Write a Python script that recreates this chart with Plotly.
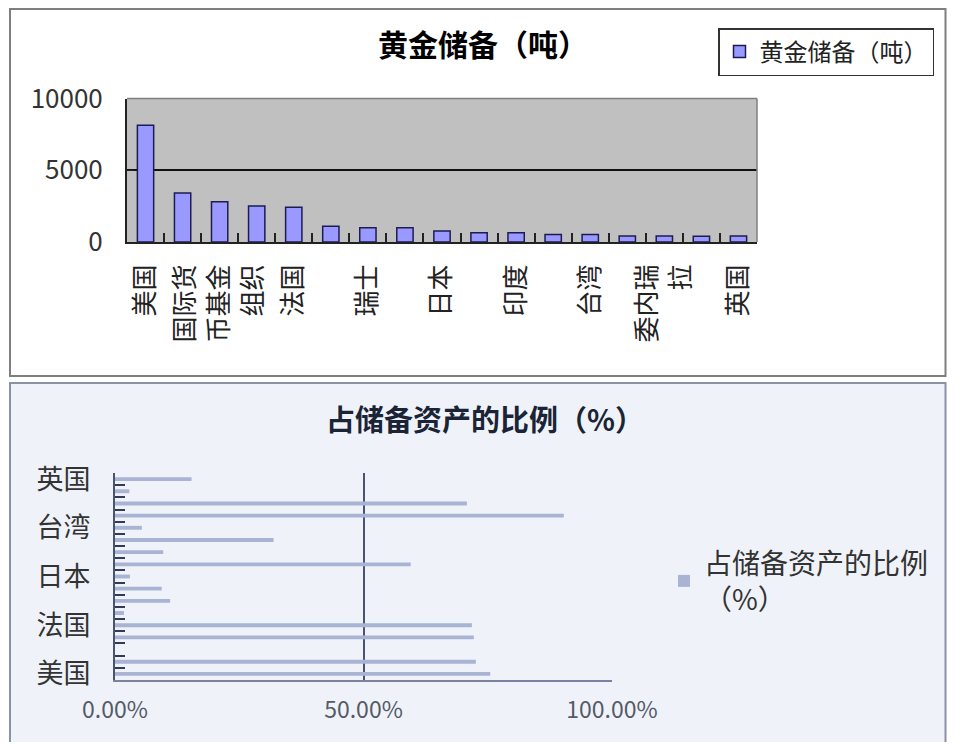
import plotly.graph_objects as go

# ---------------- data ----------------
countries = ["美国", "德国", "国际货币基金组织", "意大利", "法国", "中国", "瑞士", "俄罗斯",
             "日本", "荷兰", "印度", "欧洲央行", "台湾", "葡萄牙", "委内瑞拉", "沙特", "英国"]

# tick labels shown on the top chart (every other category, wrapped like the original)
top_tick_labels = ["美国", "", "国际货<br>币基金<br>组织", "", "法国", "", "瑞士", "",
                   "日本", "", "印度", "", "台湾", "", "委内瑞<br>拉", "", "英国"]

# tick labels shown on the bottom chart (every fourth category)
bottom_tick_labels = ["美国", "", "", "", "法国", "", "", "", "日本",
                      "", "", "", "台湾", "", "", "", "英国"]

top_y_ticks = [0, 5000, 10000]
top_y_labels = ["0", "5000", "10000"]

gold_tonnes = [8133, 3410, 2800, 2500, 2430, 1100, 1000, 1000, 760,
               650, 640, 530, 520, 420, 410, 400, 410]

share_of_reserves = [0.755, 0.726, None, 0.722, 0.718, 0.018, 0.111, 0.094, 0.030,
                     0.595, 0.097, 0.319, 0.054, 0.903, 0.708, 0.029, 0.154]

bottom_x_ticks = [0, 0.5, 1]
bottom_x_labels = ["0.00%", "50.00%", "100.00%"]

series_top = "黄金储备（吨）"
series_bottom = "占储备资产的比例<br>（%）"
title_top = "黄金储备（吨）"
title_bottom = "占储备资产的比例（%）"

# ---------------- figure ----------------
# the page body adds an 8px margin on every side, so the figure is drawn
# smaller and screen coordinates are shifted by 8px
OFF = 8
W, H = 955 - 2 * OFF, 750 - 2 * OFF
FONT = "Noto Sans CJK SC"


def px(x):
    return (x - OFF) / W


def py(y):
    return 1 - (y - OFF) / H


fig = go.Figure()

fig.add_trace(go.Bar(
    x=countries, y=gold_tonnes, name=series_top, showlegend=True,
    marker=dict(color="#9999ff", line=dict(color="#1c1c50", width=1.5)),
    xaxis="x", yaxis="y", legend="legend",
))

fig.add_trace(go.Bar(
    y=countries, x=share_of_reserves, name=series_bottom, orientation="h", showlegend=True,
    marker=dict(color="#a9b3d3", line=dict(width=0)),
    width=0.32,
    xaxis="x2", yaxis="y2", legend="legend2",
))

shapes = [
    # top panel
    dict(type="rect", xref="paper", yref="paper", x0=px(10), x1=px(945.5), y0=py(376), y1=py(9),
         fillcolor="#ffffff", line=dict(color="#7f7f7f", width=2), layer="below"),
    # bottom panel
    dict(type="rect", xref="paper", yref="paper", x0=px(10), x1=px(945.5), y0=-0.02, y1=py(383),
         fillcolor="#eff3f9", line=dict(color="#8a92a8", width=2), layer="below"),
    # top plot area background
    dict(type="rect", xref="x domain", yref="y domain", x0=0, x1=1, y0=0, y1=1,
         fillcolor="#c0c0c0", line=dict(width=0), layer="below"),
    # top plot area border (top / right)
    dict(type="line", xref="x domain", yref="y domain", x0=0, x1=1, y0=1, y1=1,
         line=dict(color="#808080", width=1.5), layer="above"),
    dict(type="line", xref="x domain", yref="y domain", x0=1, x1=1, y0=0, y1=1,
         line=dict(color="#808080", width=1.5), layer="above"),
]

annotations = [
    dict(text="<b>" + title_top + "</b>", xref="paper", yref="paper", x=px(483), y=py(43),
         xanchor="center", yanchor="middle",
         showarrow=False, font=dict(family=FONT, size=30, color="#000000")),
    dict(text="<b>" + title_bottom + "</b>", xref="paper", yref="paper", x=px(485), y=py(418),
         xanchor="center", yanchor="middle",
         showarrow=False, font=dict(family=FONT, size=29, color="#1a2436")),
]

fig.update_layout(
    template="none",
    width=W, height=H,
    margin=dict(l=0, r=0, t=0, b=0, pad=0, autoexpand=False),
    paper_bgcolor="#ffffff",
    plot_bgcolor="rgba(0,0,0,0)",
    font=dict(family=FONT),
    bargap=0.56,
    showlegend=True,
    shapes=shapes,
    annotations=annotations,
    xaxis=dict(
        domain=[px(127), px(757)], anchor="y", automargin=False,
        type="category", categoryorder="array", categoryarray=countries,
        tickmode="array", tickvals=countries, ticktext=top_tick_labels,
        tickangle=-90, tickson="boundaries", ticks="inside", ticklen=9,
        tickcolor="#222222", tickwidth=1.5,
        showline=True, linecolor="#222222", linewidth=2,
        showgrid=False, zeroline=False, ticklabelstandoff=10,
        tickfont=dict(family=FONT, size=26, color="#222222"),
        fixedrange=True,
    ),
    yaxis=dict(
        domain=[py(242), py(98.5)], anchor="x", automargin=False,
        range=[0, 10000], tickmode="array", tickvals=top_y_ticks, ticktext=top_y_labels,
        showgrid=True, gridcolor="#111111", gridwidth=1.5,
        showline=True, linecolor="#222222", linewidth=2,
        ticks="inside", ticklen=7, tickcolor="#222222",
        zeroline=False, ticklabelstandoff=17,
        tickfont=dict(family=FONT, size=26, color="#333333"),
    ),
    xaxis2=dict(
        domain=[px(115), px(612)], anchor="y2", automargin=False,
        range=[0, 1], tickmode="array", tickvals=bottom_x_ticks, ticktext=bottom_x_labels,
        showgrid=True, gridcolor="#4a5472", gridwidth=1.5,
        showline=True, linecolor="#7a82a0", linewidth=2,
        ticks="", zeroline=False, ticklabelstandoff=8,
        tickfont=dict(family=FONT, size=23, color="#555a66"),
    ),
    yaxis2=dict(
        domain=[py(680), py(473)], anchor="x2", automargin=False,
        type="category", categoryorder="array", categoryarray=countries,
        tickmode="array", tickvals=countries, ticktext=bottom_tick_labels,
        tickson="boundaries", ticks="inside", ticklen=10, tickcolor="#333a55", tickwidth=1.5,
        showline=True, linecolor="#4a5472", linewidth=2,
        showgrid=False, zeroline=False, ticklabelstandoff=17,
        tickfont=dict(family=FONT, size=27, color="#333333"),
    ),
    legend=dict(
        x=px(718), y=py(28), xanchor="left", yanchor="top",
        bgcolor="#ffffff", bordercolor="#333333", borderwidth=1.5,
        font=dict(family=FONT, size=24, color="#222222"),
        itemwidth=30,
    ),
    legend2=dict(
        x=px(664), y=py(538), xanchor="left", yanchor="top",
        bgcolor="rgba(0,0,0,0)", borderwidth=0,
        font=dict(family=FONT, size=28, color="#333333"),
        itemwidth=30,
    ),
)

fig.write_html("out.html")
